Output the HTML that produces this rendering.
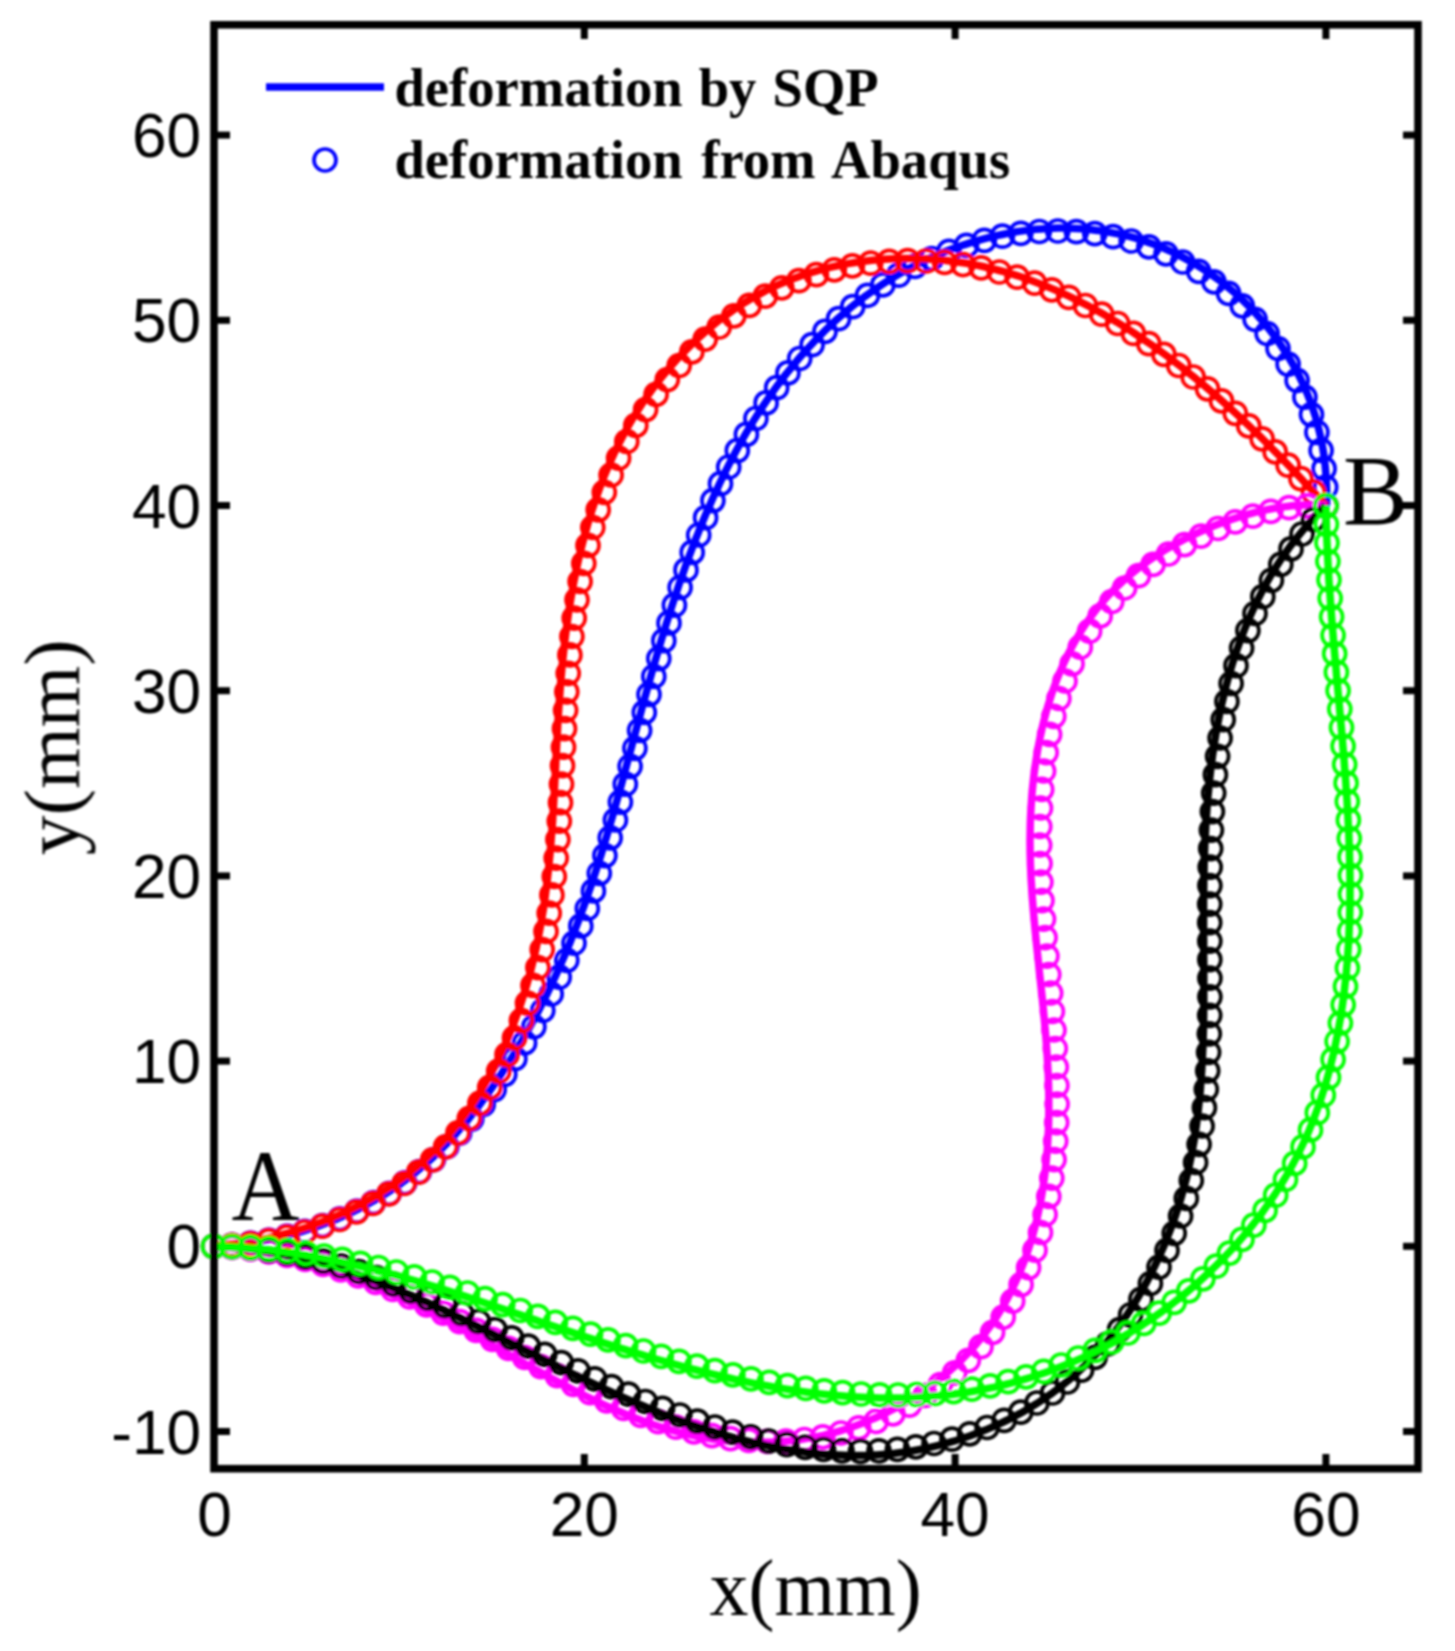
<!DOCTYPE html>
<html>
<head>
<meta charset="utf-8">
<title>Deformation by SQP vs Abaqus</title>
<style>
html,body{margin:0;padding:0;background:#ffffff;}
body{width:1455px;height:1651px;overflow:hidden;}
svg{display:block;}
.sans{font-family:"Liberation Sans",sans-serif;font-size:62.2px;fill:#000;}
.serif{font-family:"Liberation Serif",serif;fill:#000;}
</style>
</head>
<body>
<svg width="1455" height="1651" viewBox="0 0 1455 1651">
<defs><filter id="soft" x="0" y="0" width="1455" height="1651" filterUnits="userSpaceOnUse"><feGaussianBlur stdDeviation="0.9"/></filter></defs>
<rect x="0" y="0" width="1455" height="1651" fill="#ffffff"/>
<g filter="url(#soft)">
<g stroke="#000" stroke-width="7.0">
<line x1="584.3" y1="1454" x2="584.3" y2="1466"/>
<line x1="584.3" y1="27" x2="584.3" y2="39"/>
<line x1="955.1" y1="1454" x2="955.1" y2="1466"/>
<line x1="955.1" y1="27" x2="955.1" y2="39"/>
<line x1="1325.9" y1="1454" x2="1325.9" y2="1466"/>
<line x1="1325.9" y1="27" x2="1325.9" y2="39"/>
<line x1="216" y1="1431.5" x2="230" y2="1431.5"/>
<line x1="1403" y1="1431.5" x2="1416" y2="1431.5"/>
<line x1="216" y1="1246.3" x2="230" y2="1246.3"/>
<line x1="1403" y1="1246.3" x2="1416" y2="1246.3"/>
<line x1="216" y1="1061.1" x2="230" y2="1061.1"/>
<line x1="1403" y1="1061.1" x2="1416" y2="1061.1"/>
<line x1="216" y1="875.9" x2="230" y2="875.9"/>
<line x1="1403" y1="875.9" x2="1416" y2="875.9"/>
<line x1="216" y1="690.7" x2="230" y2="690.7"/>
<line x1="1403" y1="690.7" x2="1416" y2="690.7"/>
<line x1="216" y1="505.5" x2="230" y2="505.5"/>
<line x1="1403" y1="505.5" x2="1416" y2="505.5"/>
<line x1="216" y1="320.3" x2="230" y2="320.3"/>
<line x1="1403" y1="320.3" x2="1416" y2="320.3"/>
<line x1="216" y1="135.1" x2="230" y2="135.1"/>
<line x1="1403" y1="135.1" x2="1416" y2="135.1"/>
</g>
<!-- tick labels -->
<g class="sans">
<text x="201.2" y="1453.5" text-anchor="end">-10</text>
<text x="201.2" y="1268.3" text-anchor="end">0</text>
<text x="201.2" y="1083.1" text-anchor="end">10</text>
<text x="201.2" y="897.9" text-anchor="end">20</text>
<text x="201.2" y="712.7" text-anchor="end">30</text>
<text x="201.2" y="527.5" text-anchor="end">40</text>
<text x="201.2" y="342.3" text-anchor="end">50</text>
<text x="201.2" y="157.1" text-anchor="end">60</text>
<text x="214.5" y="1535.5" text-anchor="middle">0</text>
<text x="584.3" y="1535.5" text-anchor="middle">20</text>
<text x="955.1" y="1535.5" text-anchor="middle">40</text>
<text x="1325.9" y="1535.5" text-anchor="middle">60</text>
</g>
<!-- axis titles -->
<text class="serif" transform="translate(815.6,1615) scale(0.98,1)" font-size="79.5" text-anchor="middle">x(mm)</text>
<text class="serif" transform="translate(78.5,747.2) rotate(-90)" font-size="79.3" text-anchor="middle">y(mm)</text>
<!-- legend -->
<line x1="266" y1="87" x2="384" y2="87" stroke="#0000ff" stroke-width="7.5"/>
<circle cx="325" cy="160" r="11" fill="none" stroke="#0000ff" stroke-width="3.7"/>
<text class="serif" x="394.5" y="106" font-size="54.6" font-weight="bold" word-spacing="2.5">deformation by SQP</text>
<text class="serif" x="394.5" y="178" font-size="54.6" font-weight="bold" word-spacing="5">deformation from Abaqus</text>
<!-- curves -->
<!-- blue -->
<path d="M213.5 1246.2 L219 1245.9 L224.6 1245.6 L230.1 1245.2 L235.7 1244.6 L241.2 1244 L246.7 1243.3 L252.3 1242.5 L257.8 1241.7 L263.3 1240.7 L268.8 1239.6 L274.2 1238.5 L279.7 1237.3 L285.1 1236 L290.5 1234.6 L295.9 1233.1 L301.3 1231.6 L306.6 1229.9 L311.9 1228.2 L317.2 1226.4 L322.4 1224.5 L327.6 1222.6 L332.8 1220.5 L338 1218.4 L343.1 1216.2 L348.1 1213.9 L353.1 1211.5 L358.1 1209.1 L363 1206.6 L367.9 1204 L372.8 1201.3 L377.6 1198.5 L382.3 1195.7 L387 1192.8 L391.6 1189.8 L396.2 1186.7 L400.7 1183.6 L405.1 1180.3 L409.5 1177.1 L413.8 1173.7 L418.1 1170.2 L422.3 1166.7 L426.4 1163.1 L430.5 1159.5 L434.5 1155.7 L438.4 1151.9 L442.3 1148.1 L446.2 1144.2 L449.9 1140.2 L453.7 1136.2 L457.3 1132.1 L460.9 1127.9 L464.5 1123.7 L468 1119.5 L471.5 1115.2 L474.9 1110.9 L478.3 1106.5 L481.6 1102.1 L484.9 1097.6 L488.1 1093.1 L491.3 1088.6 L494.5 1084.1 L497.6 1079.5 L500.7 1074.9 L503.7 1070.3 L506.7 1065.6 L509.7 1060.9 L512.7 1056.2 L515.6 1051.5 L518.4 1046.7 L521.2 1042 L524 1037.2 L526.8 1032.4 L529.5 1027.5 L532.1 1022.7 L534.8 1017.8 L537.4 1012.9 L539.9 1008 L542.4 1003.1 L544.9 998.1 L547.4 993.2 L549.8 988.2 L552.2 983.2 L554.5 978.2 L556.8 973.2 L559.1 968.1 L561.3 963.1 L563.5 958 L565.7 952.9 L567.8 947.8 L569.9 942.7 L571.9 937.6 L574 932.5 L576 927.3 L578 922.2 L579.9 917 L581.8 911.8 L583.7 906.6 L585.6 901.4 L587.4 896.2 L589.2 890.9 L591 885.7 L592.8 880.4 L594.5 875.2 L596.2 869.9 L597.9 864.6 L599.6 859.3 L601.3 854 L602.9 848.7 L604.5 843.4 L606.1 838.1 L607.7 832.7 L609.3 827.4 L610.8 822.1 L612.4 816.7 L613.9 811.4 L615.4 806 L616.9 800.6 L618.4 795.3 L619.9 789.9 L621.4 784.5 L622.9 779.1 L624.3 773.7 L625.8 768.3 L627.2 762.9 L628.7 757.5 L630.1 752.1 L631.6 746.7 L633 741.3 L634.5 735.9 L635.9 730.5 L637.4 725.1 L638.8 719.7 L640.3 714.4 L641.7 709 L643.2 703.6 L644.7 698.2 L646.2 692.8 L647.7 687.4 L649.2 682 L650.7 676.6 L652.2 671.3 L653.8 665.9 L655.3 660.5 L656.9 655.2 L658.5 649.8 L660 644.5 L661.6 639.1 L663.3 633.8 L664.9 628.5 L666.5 623.1 L668.2 617.8 L669.9 612.5 L671.6 607.2 L673.3 601.9 L675 596.6 L676.8 591.4 L678.5 586.1 L680.3 580.8 L682.2 575.6 L684 570.4 L685.9 565.1 L687.8 559.9 L689.7 554.7 L691.7 549.5 L693.6 544.4 L695.6 539.2 L697.7 534.1 L699.7 528.9 L701.8 523.8 L703.9 518.7 L706.1 513.6 L708.3 508.5 L710.5 503.4 L712.7 498.4 L715 493.3 L717.4 488.3 L719.7 483.3 L722.1 478.3 L724.5 473.3 L727 468.4 L729.5 463.4 L732.1 458.5 L734.7 453.6 L737.3 448.7 L740 443.8 L742.7 439 L745.5 434.2 L748.3 429.4 L751.2 424.6 L754.1 419.9 L757.1 415.2 L760.1 410.5 L763.1 405.9 L766.2 401.3 L769.4 396.7 L772.6 392.2 L775.8 387.7 L779.1 383.2 L782.4 378.8 L785.8 374.4 L789.3 370.1 L792.8 365.8 L796.3 361.5 L799.9 357.3 L803.5 353.2 L807.2 349 L811 345 L814.7 340.9 L818.6 337 L822.5 333.1 L826.4 329.2 L830.4 325.4 L834.5 321.6 L838.6 317.9 L842.8 314.3 L847 310.7 L851.2 307.2 L855.5 303.7 L859.9 300.3 L864.3 296.9 L868.8 293.7 L873.3 290.4 L877.9 287.3 L882.6 284.2 L887.3 281.1 L892.1 278.2 L896.9 275.3 L901.7 272.5 L906.7 269.7 L911.7 267.1 L916.7 264.5 L921.8 262 L926.9 259.5 L932.1 257.2 L937.3 254.9 L942.5 252.7 L947.8 250.6 L953.2 248.6 L958.5 246.7 L963.9 244.8 L969.3 243.1 L974.8 241.4 L980.2 239.8 L985.7 238.4 L991.2 237 L996.7 235.7 L1002.3 234.5 L1007.8 233.3 L1013.4 232.3 L1019 231.4 L1024.6 230.6 L1030.2 229.9 L1035.8 229.3 L1041.4 228.9 L1047 228.5 L1052.6 228.2 L1058.2 228.1 L1063.8 228.1 L1069.4 228.2 L1075 228.5 L1080.6 228.8 L1086.2 229.2 L1091.7 229.8 L1097.3 230.4 L1102.8 231.2 L1108.3 232.1 L1113.8 233.1 L1119.3 234.1 L1124.8 235.4 L1130.2 236.7 L1135.6 238.2 L1141 239.8 L1146.3 241.6 L1151.6 243.5 L1156.9 245.5 L1162.1 247.6 L1167.3 249.8 L1172.5 252.2 L1177.6 254.6 L1182.6 257.2 L1187.6 259.9 L1192.6 262.7 L1197.4 265.5 L1202.3 268.6 L1207 271.7 L1211.8 274.9 L1216.4 278.2 L1221 281.6 L1225.5 285.2 L1229.9 288.8 L1234.2 292.5 L1238.5 296.3 L1242.7 300.2 L1246.8 304.2 L1250.9 308.3 L1254.8 312.5 L1258.6 316.7 L1262.4 321.1 L1266.1 325.5 L1269.7 329.9 L1273.2 334.5 L1276.6 339.1 L1279.9 343.8 L1283.1 348.6 L1286.2 353.4 L1289.2 358.2 L1292.2 363.2 L1295 368.1 L1297.7 373.2 L1300.3 378.3 L1302.7 383.4 L1305.1 388.6 L1307.3 393.9 L1309.4 399.2 L1311.4 404.5 L1313.2 409.9 L1315 415.3 L1316.6 420.8 L1318 426.2 L1319.4 431.7 L1320.6 437.2 L1321.8 442.8 L1322.8 448.3 L1323.7 453.9 L1324.4 459.5 L1325.1 465.1 L1325.6 470.7 L1326.1 476.3 L1326.4 481.9 L1326.6 487.5 L1326.7 493.1 L1326.7 498.8 L1326.6 504.4 L1326.5 505.8" fill="none" stroke="#0000ff" stroke-width="7.5" stroke-linejoin="round"/>
<g fill="none" stroke="#0000ff" stroke-width="3.7"><circle cx="213.5" cy="1246.3" r="11.0"/><circle cx="232" cy="1245.2" r="11.0"/><circle cx="250.5" cy="1243.1" r="11.0"/><circle cx="268.8" cy="1240.1" r="11.0"/><circle cx="287" cy="1236.2" r="11.0"/><circle cx="304.9" cy="1231.3" r="11.0"/><circle cx="322.5" cy="1225.6" r="11.0"/><circle cx="339.8" cy="1218.9" r="11.0"/><circle cx="356.8" cy="1211.2" r="11.0"/><circle cx="373.3" cy="1202.7" r="11.0"/><circle cx="389.3" cy="1193.3" r="11.0"/><circle cx="404.7" cy="1182.9" r="11.0"/><circle cx="419.4" cy="1171.7" r="11.0"/><circle cx="433.5" cy="1159.6" r="11.0"/><circle cx="446.9" cy="1146.7" r="11.0"/><circle cx="459.6" cy="1133.2" r="11.0"/><circle cx="471.7" cy="1119.1" r="11.0"/><circle cx="483.2" cy="1104.5" r="11.0"/><circle cx="494.2" cy="1089.6" r="11.0"/><circle cx="504.8" cy="1074.3" r="11.0"/><circle cx="514.9" cy="1058.7" r="11.0"/><circle cx="524.6" cy="1042.9" r="11.0"/><circle cx="533.9" cy="1026.8" r="11.0"/><circle cx="542.8" cy="1010.5" r="11.0"/><circle cx="551.2" cy="994" r="11.0"/><circle cx="559.2" cy="977.2" r="11.0"/><circle cx="566.8" cy="960.3" r="11.0"/><circle cx="574" cy="943.2" r="11.0"/><circle cx="580.8" cy="925.9" r="11.0"/><circle cx="587.3" cy="908.5" r="11.0"/><circle cx="593.4" cy="890.9" r="11.0"/><circle cx="599.3" cy="873.3" r="11.0"/><circle cx="604.9" cy="855.6" r="11.0"/><circle cx="610.2" cy="837.8" r="11.0"/><circle cx="615.4" cy="820" r="11.0"/><circle cx="620.4" cy="802.1" r="11.0"/><circle cx="625.3" cy="784.2" r="11.0"/><circle cx="630.1" cy="766.3" r="11.0"/><circle cx="634.9" cy="748.3" r="11.0"/><circle cx="639.6" cy="730.4" r="11.0"/><circle cx="644.3" cy="712.4" r="11.0"/><circle cx="649" cy="694.4" r="11.0"/><circle cx="653.8" cy="676.5" r="11.0"/><circle cx="658.8" cy="658.6" r="11.0"/><circle cx="663.8" cy="640.7" r="11.0"/><circle cx="669" cy="622.9" r="11.0"/><circle cx="674.4" cy="605.2" r="11.0"/><circle cx="680.1" cy="587.5" r="11.0"/><circle cx="686" cy="569.9" r="11.0"/><circle cx="692.2" cy="552.4" r="11.0"/><circle cx="698.7" cy="535" r="11.0"/><circle cx="705.6" cy="517.7" r="11.0"/><circle cx="712.9" cy="500.6" r="11.0"/><circle cx="720.5" cy="483.7" r="11.0"/><circle cx="728.7" cy="467" r="11.0"/><circle cx="737.3" cy="450.6" r="11.0"/><circle cx="746.4" cy="434.4" r="11.0"/><circle cx="755.9" cy="418.5" r="11.0"/><circle cx="766.1" cy="402.9" r="11.0"/><circle cx="776.7" cy="387.7" r="11.0"/><circle cx="787.9" cy="372.9" r="11.0"/><circle cx="799.7" cy="358.5" r="11.0"/><circle cx="812.1" cy="344.7" r="11.0"/><circle cx="825" cy="331.4" r="11.0"/><circle cx="838.6" cy="318.7" r="11.0"/><circle cx="852.7" cy="306.7" r="11.0"/><circle cx="867.5" cy="295.4" r="11.0"/><circle cx="882.8" cy="284.9" r="11.0"/><circle cx="898.6" cy="275.2" r="11.0"/><circle cx="914.9" cy="266.4" r="11.0"/><circle cx="931.7" cy="258.5" r="11.0"/><circle cx="948.9" cy="251.4" r="11.0"/><circle cx="966.5" cy="245.4" r="11.0"/><circle cx="984.3" cy="240.3" r="11.0"/><circle cx="1002.4" cy="236.2" r="11.0"/><circle cx="1020.8" cy="233.3" r="11.0"/><circle cx="1039.3" cy="231.5" r="11.0"/><circle cx="1057.8" cy="231" r="11.0"/><circle cx="1076.4" cy="231.7" r="11.0"/><circle cx="1094.8" cy="233.6" r="11.0"/><circle cx="1113.1" cy="236.7" r="11.0"/><circle cx="1131.2" cy="241" r="11.0"/><circle cx="1148.9" cy="246.8" r="11.0"/><circle cx="1166" cy="253.8" r="11.0"/><circle cx="1182.7" cy="262" r="11.0"/><circle cx="1198.7" cy="271.4" r="11.0"/><circle cx="1214" cy="281.9" r="11.0"/><circle cx="1228.6" cy="293.4" r="11.0"/><circle cx="1242.3" cy="305.9" r="11.0"/><circle cx="1255.1" cy="319.3" r="11.0"/><circle cx="1267.1" cy="333.5" r="11.0"/><circle cx="1278" cy="348.5" r="11.0"/><circle cx="1288.1" cy="364.1" r="11.0"/><circle cx="1297.1" cy="380.4" r="11.0"/><circle cx="1304.9" cy="397.2" r="11.0"/><circle cx="1311.5" cy="414.6" r="11.0"/><circle cx="1316.9" cy="432.3" r="11.0"/><circle cx="1321.1" cy="450.4" r="11.0"/><circle cx="1324.1" cy="468.7" r="11.0"/><circle cx="1325.7" cy="487.2" r="11.0"/><circle cx="1326.1" cy="505.8" r="11.0"/></g>
<!-- red -->
<path d="M213.5 1245.8 L219 1245.5 L224.6 1245.1 L230.2 1244.6 L235.7 1244 L241.2 1243.2 L246.8 1242.4 L252.3 1241.5 L257.8 1240.4 L263.2 1239.3 L268.7 1238.1 L274.2 1236.8 L279.6 1235.4 L285 1234 L290.4 1232.5 L295.7 1230.9 L301 1229.2 L306.4 1227.5 L311.6 1225.7 L316.9 1223.8 L322.1 1221.9 L327.3 1219.8 L332.4 1217.7 L337.5 1215.6 L342.6 1213.3 L347.6 1211 L352.6 1208.6 L357.5 1206.1 L362.4 1203.6 L367.2 1201 L372 1198.2 L376.7 1195.5 L381.4 1192.6 L386 1189.7 L390.5 1186.6 L395 1183.6 L399.4 1180.4 L403.8 1177.2 L408 1173.9 L412.2 1170.5 L416.4 1167.1 L420.4 1163.5 L424.4 1160 L428.3 1156.3 L432.2 1152.6 L436 1148.8 L439.7 1145 L443.3 1141 L446.9 1137.1 L450.4 1133 L453.8 1128.9 L457.2 1124.8 L460.5 1120.6 L463.7 1116.3 L466.8 1111.9 L469.9 1107.6 L473 1103.1 L475.9 1098.6 L478.8 1094.1 L481.7 1089.5 L484.4 1084.9 L487.1 1080.2 L489.8 1075.5 L492.3 1070.7 L494.9 1065.9 L497.3 1061 L499.7 1056.1 L502 1051.2 L504.3 1046.2 L506.5 1041.2 L508.6 1036.2 L510.7 1031.1 L512.8 1026 L514.7 1020.9 L516.6 1015.8 L518.5 1010.6 L520.3 1005.4 L522 1000.1 L523.7 994.9 L525.3 989.6 L526.9 984.3 L528.4 979 L529.9 973.7 L531.3 968.4 L532.6 963 L533.9 957.7 L535.2 952.3 L536.4 946.9 L537.5 941.5 L538.6 936.1 L539.6 930.7 L540.6 925.3 L541.6 919.9 L542.5 914.5 L543.4 909.1 L544.2 903.6 L545 898.2 L545.7 892.7 L546.4 887.3 L547.1 881.8 L547.7 876.3 L548.3 870.8 L548.9 865.4 L549.4 859.9 L550 854.4 L550.4 848.9 L550.9 843.4 L551.3 837.8 L551.8 832.3 L552.2 826.8 L552.6 821.3 L552.9 815.7 L553.3 810.2 L553.6 804.7 L553.9 799.1 L554.2 793.6 L554.5 788 L554.8 782.4 L555.1 776.9 L555.4 771.3 L555.7 765.7 L555.9 760.2 L556.2 754.6 L556.5 749 L556.8 743.4 L557.1 737.9 L557.4 732.3 L557.7 726.7 L558 721.1 L558.3 715.5 L558.7 709.9 L559.1 704.3 L559.5 698.8 L559.9 693.2 L560.3 687.6 L560.7 682 L561.2 676.4 L561.7 670.8 L562.2 665.2 L562.8 659.6 L563.4 654 L564 648.5 L564.6 642.9 L565.3 637.3 L566 631.7 L566.7 626.1 L567.5 620.6 L568.3 615 L569.1 609.4 L570 603.9 L570.9 598.3 L571.9 592.8 L572.9 587.3 L573.9 581.7 L575 576.2 L576.1 570.7 L577.3 565.3 L578.5 559.8 L579.8 554.3 L581.1 548.9 L582.5 543.4 L583.9 538 L585.4 532.6 L586.9 527.2 L588.4 521.8 L590.1 516.5 L591.7 511.1 L593.5 505.8 L595.2 500.5 L597.1 495.2 L599 489.9 L600.9 484.7 L603 479.4 L605 474.2 L607.2 469 L609.4 463.9 L611.7 458.7 L614 453.6 L616.5 448.5 L619 443.4 L621.6 438.4 L624.2 433.4 L627 428.4 L629.8 423.5 L632.7 418.6 L635.7 413.8 L638.7 409 L641.8 404.2 L645 399.5 L648.3 394.8 L651.6 390.2 L655 385.7 L658.5 381.2 L662.1 376.7 L665.7 372.3 L669.3 368 L673.1 363.7 L676.9 359.5 L680.7 355.4 L684.7 351.3 L688.7 347.3 L692.7 343.3 L696.8 339.4 L701 335.6 L705.2 331.9 L709.5 328.2 L713.8 324.6 L718.2 321.1 L722.7 317.7 L727.2 314.4 L731.8 311.1 L736.4 308 L741.1 304.9 L745.8 301.9 L750.6 299.1 L755.5 296.3 L760.4 293.6 L765.3 291 L770.3 288.5 L775.3 286.2 L780.4 283.9 L785.5 281.7 L790.7 279.6 L795.9 277.7 L801.2 275.8 L806.5 274 L811.8 272.4 L817.1 270.8 L822.5 269.3 L827.9 267.9 L833.3 266.7 L838.8 265.5 L844.2 264.4 L849.7 263.4 L855.2 262.5 L860.8 261.7 L866.3 260.9 L871.9 260.3 L877.4 259.8 L883 259.3 L888.6 259 L894.2 258.7 L899.8 258.5 L905.4 258.4 L911 258.4 L916.6 258.5 L922.2 258.7 L927.8 259 L933.4 259.3 L938.9 259.8 L944.5 260.3 L950.1 260.9 L955.6 261.7 L961.2 262.5 L966.7 263.3 L972.2 264.3 L977.6 265.4 L983.1 266.5 L988.5 267.8 L994 269.1 L999.3 270.5 L1004.7 271.9 L1010 273.5 L1015.4 275.1 L1020.7 276.8 L1025.9 278.6 L1031.2 280.5 L1036.4 282.4 L1041.6 284.4 L1046.8 286.5 L1051.9 288.6 L1057 290.8 L1062.1 293.1 L1067.2 295.4 L1072.3 297.8 L1077.3 300.3 L1082.3 302.8 L1087.3 305.4 L1092.2 308 L1097.1 310.7 L1102 313.4 L1106.9 316.2 L1111.7 319.1 L1116.5 321.9 L1121.3 324.9 L1126.1 327.9 L1130.8 330.9 L1135.5 334 L1140.2 337.1 L1144.8 340.3 L1149.5 343.5 L1154.1 346.7 L1158.6 350 L1163.2 353.3 L1167.7 356.6 L1172.2 360 L1176.6 363.4 L1181.1 366.8 L1185.5 370.3 L1189.8 373.8 L1194.2 377.3 L1198.5 380.8 L1202.8 384.4 L1207.1 388 L1211.3 391.6 L1215.5 395.2 L1219.7 398.9 L1223.9 402.6 L1228 406.3 L1232.1 410.1 L1236.2 413.8 L1240.3 417.6 L1244.4 421.4 L1248.4 425.2 L1252.4 429.1 L1256.4 432.9 L1260.4 436.8 L1264.3 440.7 L1268.2 444.6 L1272.1 448.6 L1276 452.5 L1279.9 456.4 L1283.7 460.4 L1287.6 464.4 L1291.4 468.4 L1295.2 472.4 L1299 476.4 L1302.8 480.4 L1306.5 484.5 L1310.3 488.5 L1314 492.6 L1317.7 496.6 L1321.4 500.7 L1325.1 504.8 L1326 505.8" fill="none" stroke="#ff0000" stroke-width="7.5" stroke-linejoin="round"/>
<g fill="none" stroke="#ff0000" stroke-width="3.7"><circle cx="213.5" cy="1246.3" r="11.0"/><circle cx="232" cy="1245.4" r="11.0"/><circle cx="250.4" cy="1243.5" r="11.0"/><circle cx="268.7" cy="1240.6" r="11.0"/><circle cx="286.8" cy="1236.8" r="11.0"/><circle cx="304.7" cy="1232" r="11.0"/><circle cx="322.3" cy="1226.2" r="11.0"/><circle cx="339.6" cy="1219.5" r="11.0"/><circle cx="356.4" cy="1211.9" r="11.0"/><circle cx="372.9" cy="1203.4" r="11.0"/><circle cx="388.8" cy="1193.9" r="11.0"/><circle cx="404.1" cy="1183.5" r="11.0"/><circle cx="418.7" cy="1172.1" r="11.0"/><circle cx="432.6" cy="1159.9" r="11.0"/><circle cx="445.6" cy="1146.8" r="11.0"/><circle cx="457.9" cy="1132.9" r="11.0"/><circle cx="469.3" cy="1118.3" r="11.0"/><circle cx="479.9" cy="1103.1" r="11.0"/><circle cx="489.7" cy="1087.4" r="11.0"/><circle cx="498.7" cy="1071.2" r="11.0"/><circle cx="507" cy="1054.7" r="11.0"/><circle cx="514.5" cy="1037.8" r="11.0"/><circle cx="521.4" cy="1020.6" r="11.0"/><circle cx="527.5" cy="1003.1" r="11.0"/><circle cx="533" cy="985.4" r="11.0"/><circle cx="537.9" cy="967.6" r="11.0"/><circle cx="542.2" cy="949.6" r="11.0"/><circle cx="546" cy="931.4" r="11.0"/><circle cx="549.2" cy="913.2" r="11.0"/><circle cx="551.9" cy="894.9" r="11.0"/><circle cx="554.3" cy="876.5" r="11.0"/><circle cx="556.2" cy="858.1" r="11.0"/><circle cx="557.9" cy="839.6" r="11.0"/><circle cx="559.3" cy="821.2" r="11.0"/><circle cx="560.5" cy="802.7" r="11.0"/><circle cx="561.5" cy="784.2" r="11.0"/><circle cx="562.5" cy="765.7" r="11.0"/><circle cx="563.5" cy="747.2" r="11.0"/><circle cx="564.5" cy="728.7" r="11.0"/><circle cx="565.6" cy="710.3" r="11.0"/><circle cx="566.8" cy="691.8" r="11.0"/><circle cx="568.2" cy="673.3" r="11.0"/><circle cx="569.9" cy="654.9" r="11.0"/><circle cx="571.9" cy="636.5" r="11.0"/><circle cx="574.2" cy="618.1" r="11.0"/><circle cx="577" cy="599.8" r="11.0"/><circle cx="580.1" cy="581.5" r="11.0"/><circle cx="583.8" cy="563.4" r="11.0"/><circle cx="588" cy="545.4" r="11.0"/><circle cx="592.8" cy="527.5" r="11.0"/><circle cx="598.2" cy="509.8" r="11.0"/><circle cx="604.3" cy="492.3" r="11.0"/><circle cx="611.1" cy="475" r="11.0"/><circle cx="618.6" cy="458.1" r="11.0"/><circle cx="626.8" cy="441.5" r="11.0"/><circle cx="635.8" cy="425.4" r="11.0"/><circle cx="645.6" cy="409.6" r="11.0"/><circle cx="656.1" cy="394.4" r="11.0"/><circle cx="667.3" cy="379.6" r="11.0"/><circle cx="679.2" cy="365.5" r="11.0"/><circle cx="691.8" cy="351.9" r="11.0"/><circle cx="705.2" cy="339.1" r="11.0"/><circle cx="719.2" cy="327" r="11.0"/><circle cx="733.9" cy="315.8" r="11.0"/><circle cx="749.3" cy="305.4" r="11.0"/><circle cx="765.3" cy="296.1" r="11.0"/><circle cx="781.8" cy="287.8" r="11.0"/><circle cx="798.9" cy="280.7" r="11.0"/><circle cx="816.4" cy="274.7" r="11.0"/><circle cx="834.3" cy="269.8" r="11.0"/><circle cx="852.4" cy="265.9" r="11.0"/><circle cx="870.7" cy="263.2" r="11.0"/><circle cx="889.1" cy="261.4" r="11.0"/><circle cx="907.6" cy="260.7" r="11.0"/><circle cx="926.2" cy="261" r="11.0"/><circle cx="944.6" cy="262.3" r="11.0"/><circle cx="963" cy="264.6" r="11.0"/><circle cx="981.2" cy="267.8" r="11.0"/><circle cx="999.3" cy="272" r="11.0"/><circle cx="1017.1" cy="277.1" r="11.0"/><circle cx="1034.6" cy="283.1" r="11.0"/><circle cx="1051.8" cy="289.8" r="11.0"/><circle cx="1068.8" cy="297.3" r="11.0"/><circle cx="1085.4" cy="305.5" r="11.0"/><circle cx="1101.7" cy="314.2" r="11.0"/><circle cx="1117.7" cy="323.5" r="11.0"/><circle cx="1133.4" cy="333.4" r="11.0"/><circle cx="1148.8" cy="343.7" r="11.0"/><circle cx="1163.9" cy="354.4" r="11.0"/><circle cx="1178.7" cy="365.5" r="11.0"/><circle cx="1193.2" cy="377" r="11.0"/><circle cx="1207.5" cy="388.8" r="11.0"/><circle cx="1221.5" cy="400.9" r="11.0"/><circle cx="1235.3" cy="413.3" r="11.0"/><circle cx="1248.8" cy="425.9" r="11.0"/><circle cx="1262.1" cy="438.8" r="11.0"/><circle cx="1275.2" cy="451.9" r="11.0"/><circle cx="1288.1" cy="465.2" r="11.0"/><circle cx="1300.9" cy="478.6" r="11.0"/><circle cx="1313.5" cy="492.1" r="11.0"/><circle cx="1326" cy="505.8" r="11.0"/></g>
<!-- magenta -->
<path d="M213.5 1246.7 L219.1 1247 L224.7 1247.4 L230.3 1247.9 L235.9 1248.5 L241.5 1249.2 L247 1249.9 L252.5 1250.8 L258 1251.7 L263.4 1252.7 L268.8 1253.7 L274.2 1254.9 L279.6 1256 L285 1257.3 L290.3 1258.6 L295.7 1260 L301 1261.4 L306.2 1262.9 L311.5 1264.5 L316.7 1266.1 L322 1267.7 L327.2 1269.4 L332.4 1271.1 L337.6 1272.9 L342.7 1274.7 L347.9 1276.6 L353 1278.5 L358.2 1280.5 L363.3 1282.4 L368.4 1284.5 L373.5 1286.5 L378.6 1288.6 L383.6 1290.8 L388.7 1292.9 L393.8 1295.1 L398.8 1297.4 L403.8 1299.6 L408.9 1301.9 L413.9 1304.3 L418.9 1306.7 L423.9 1309.1 L428.8 1311.5 L433.8 1314 L438.8 1316.5 L443.7 1319.1 L448.7 1321.7 L453.6 1324.3 L458.5 1326.9 L463.4 1329.5 L468.3 1332.2 L473.2 1334.9 L478.1 1337.6 L483 1340.3 L487.9 1343 L492.8 1345.8 L497.7 1348.5 L502.6 1351.3 L507.5 1354 L512.4 1356.8 L517.3 1359.5 L522.3 1362.3 L527.2 1365 L532.1 1367.7 L537 1370.4 L542 1373.1 L546.9 1375.8 L551.9 1378.5 L556.8 1381.1 L561.8 1383.8 L566.8 1386.4 L571.7 1389 L576.8 1391.5 L581.8 1394 L586.8 1396.5 L591.8 1399 L596.9 1401.4 L602 1403.8 L607 1406.1 L612.2 1408.4 L617.3 1410.6 L622.4 1412.8 L627.6 1414.9 L632.8 1417 L638 1419 L643.2 1421 L648.5 1422.9 L653.7 1424.7 L659.1 1426.5 L664.4 1428.1 L669.8 1429.7 L675.1 1431.2 L680.6 1432.6 L686 1434 L691.4 1435.2 L696.9 1436.3 L702.4 1437.4 L707.9 1438.3 L713.4 1439.2 L719 1439.9 L724.5 1440.6 L730 1441.1 L735.6 1441.6 L741.1 1441.9 L746.7 1442.2 L752.2 1442.3 L757.8 1442.4 L763.3 1442.3 L768.8 1442.2 L774.4 1442 L779.9 1441.6 L785.4 1441.2 L790.9 1440.7 L796.3 1440 L801.8 1439.3 L807.2 1438.4 L812.6 1437.5 L818 1436.4 L823.4 1435.3 L828.7 1434 L834.1 1432.6 L839.4 1431.1 L844.6 1429.5 L849.9 1427.8 L855.1 1426 L860.3 1424.1 L865.5 1422.1 L870.6 1419.9 L875.7 1417.7 L880.8 1415.4 L885.8 1413 L890.8 1410.5 L895.8 1407.9 L900.7 1405.2 L905.5 1402.4 L910.3 1399.5 L915.1 1396.6 L919.8 1393.5 L924.4 1390.4 L929 1387.2 L933.5 1383.9 L938 1380.5 L942.3 1377 L946.6 1373.4 L950.8 1369.8 L954.9 1366.1 L959 1362.3 L962.9 1358.5 L966.8 1354.5 L970.5 1350.5 L974.2 1346.5 L977.7 1342.4 L981.1 1338.2 L984.5 1333.9 L987.7 1329.6 L990.9 1325.2 L993.9 1320.8 L996.9 1316.3 L999.7 1311.8 L1002.5 1307.2 L1005.2 1302.6 L1007.7 1297.9 L1010.2 1293.1 L1012.6 1288.3 L1014.9 1283.5 L1017.1 1278.6 L1019.3 1273.7 L1021.3 1268.7 L1023.3 1263.7 L1025.2 1258.7 L1027 1253.6 L1028.7 1248.4 L1030.3 1243.3 L1031.9 1238.1 L1033.4 1232.9 L1034.8 1227.6 L1036.1 1222.3 L1037.4 1217 L1038.5 1211.7 L1039.6 1206.3 L1040.7 1201 L1041.7 1195.6 L1042.6 1190.1 L1043.4 1184.7 L1044.2 1179.2 L1044.9 1173.8 L1045.5 1168.3 L1046.1 1162.8 L1046.6 1157.3 L1047.1 1151.8 L1047.5 1146.3 L1047.8 1140.7 L1048.1 1135.2 L1048.4 1129.7 L1048.6 1124.2 L1048.7 1118.6 L1048.8 1113.1 L1048.8 1107.6 L1048.8 1102.1 L1048.8 1096.5 L1048.7 1091 L1048.6 1085.5 L1048.4 1080 L1048.2 1074.5 L1047.9 1069 L1047.6 1063.5 L1047.3 1058 L1047 1052.5 L1046.6 1047 L1046.2 1041.5 L1045.8 1036 L1045.3 1030.5 L1044.8 1025 L1044.3 1019.5 L1043.8 1014 L1043.3 1008.5 L1042.7 1003 L1042.2 997.5 L1041.6 992 L1041 986.5 L1040.4 981 L1039.8 975.5 L1039.2 969.9 L1038.7 964.4 L1038.1 958.9 L1037.5 953.3 L1036.9 947.8 L1036.3 942.2 L1035.8 936.7 L1035.2 931.1 L1034.7 925.5 L1034.2 920 L1033.7 914.4 L1033.2 908.8 L1032.8 903.2 L1032.3 897.6 L1031.9 892 L1031.6 886.3 L1031.2 880.7 L1030.9 875.1 L1030.7 869.4 L1030.4 863.7 L1030.3 858.1 L1030.1 852.4 L1030.1 846.7 L1030 841 L1030.1 835.2 L1030.2 829.5 L1030.3 823.8 L1030.5 818.1 L1030.8 812.3 L1031.1 806.6 L1031.5 800.9 L1031.9 795.1 L1032.4 789.4 L1033 783.7 L1033.6 778 L1034.3 772.3 L1035.1 766.6 L1035.9 760.9 L1036.8 755.3 L1037.7 749.6 L1038.8 744 L1039.9 738.4 L1041.1 732.9 L1042.3 727.3 L1043.6 721.8 L1045.1 716.3 L1046.5 710.9 L1048.1 705.4 L1049.8 700 L1051.5 694.7 L1053.3 689.3 L1055.2 684.1 L1057.2 678.8 L1059.3 673.6 L1061.5 668.5 L1063.7 663.4 L1066.1 658.3 L1068.5 653.3 L1071.1 648.4 L1073.8 643.5 L1076.5 638.6 L1079.4 633.8 L1082.3 629.1 L1085.4 624.5 L1088.6 619.9 L1091.8 615.4 L1095.2 610.9 L1098.7 606.6 L1102.3 602.3 L1106 598 L1109.8 593.9 L1113.8 589.8 L1117.8 585.9 L1122 582 L1126.3 578.2 L1130.7 574.5 L1135.1 570.8 L1139.7 567.3 L1144.3 563.8 L1149.1 560.5 L1153.9 557.2 L1158.8 554 L1163.7 550.9 L1168.7 547.9 L1173.8 545 L1179 542.2 L1184.1 539.5 L1189.4 536.8 L1194.6 534.3 L1200 531.8 L1205.3 529.5 L1210.7 527.2 L1216.1 525.1 L1221.5 523 L1226.9 521 L1232.4 519.1 L1237.8 517.4 L1243.2 515.7 L1248.7 514.2 L1254.1 512.7 L1259.6 511.4 L1265 510.1 L1270.4 509 L1275.8 508 L1281.2 507.2 L1286.6 506.4 L1292.1 505.8 L1297.5 505.4 L1302.9 505 L1308.3 504.9 L1313.7 504.8 L1319.2 505 L1324.7 505.2 L1326 505.3" fill="none" stroke="#ff00ff" stroke-width="7.5" stroke-linejoin="round"/>
<g fill="none" stroke="#ff00ff" stroke-width="3.7"><circle cx="213.5" cy="1246.3" r="11.0"/><circle cx="232" cy="1247.4" r="11.0"/><circle cx="250.5" cy="1249.2" r="11.0"/><circle cx="268.8" cy="1251.9" r="11.0"/><circle cx="287.1" cy="1255.4" r="11.0"/><circle cx="305.1" cy="1259.5" r="11.0"/><circle cx="323.1" cy="1264.4" r="11.0"/><circle cx="340.8" cy="1269.8" r="11.0"/><circle cx="358.3" cy="1275.9" r="11.0"/><circle cx="375.7" cy="1282.4" r="11.0"/><circle cx="392.8" cy="1289.5" r="11.0"/><circle cx="409.8" cy="1297" r="11.0"/><circle cx="426.6" cy="1304.9" r="11.0"/><circle cx="443.2" cy="1313.1" r="11.0"/><circle cx="459.7" cy="1321.6" r="11.0"/><circle cx="476.1" cy="1330.4" r="11.0"/><circle cx="492.3" cy="1339.3" r="11.0"/><circle cx="508.5" cy="1348.4" r="11.0"/><circle cx="524.6" cy="1357.5" r="11.0"/><circle cx="540.8" cy="1366.6" r="11.0"/><circle cx="557.1" cy="1375.6" r="11.0"/><circle cx="573.4" cy="1384.3" r="11.0"/><circle cx="590" cy="1392.7" r="11.0"/><circle cx="606.7" cy="1400.8" r="11.0"/><circle cx="623.6" cy="1408.4" r="11.0"/><circle cx="640.8" cy="1415.4" r="11.0"/><circle cx="658.2" cy="1421.7" r="11.0"/><circle cx="675.9" cy="1427.2" r="11.0"/><circle cx="693.9" cy="1431.9" r="11.0"/><circle cx="712" cy="1435.7" r="11.0"/><circle cx="730.4" cy="1438.6" r="11.0"/><circle cx="748.8" cy="1440.4" r="11.0"/><circle cx="767.4" cy="1441.3" r="11.0"/><circle cx="785.9" cy="1441" r="11.0"/><circle cx="804.4" cy="1439.5" r="11.0"/><circle cx="822.8" cy="1436.9" r="11.0"/><circle cx="840.9" cy="1433" r="11.0"/><circle cx="858.7" cy="1427.8" r="11.0"/><circle cx="876.1" cy="1421.4" r="11.0"/><circle cx="893" cy="1413.8" r="11.0"/><circle cx="909.4" cy="1405.1" r="11.0"/><circle cx="925.2" cy="1395.4" r="11.0"/><circle cx="940.3" cy="1384.6" r="11.0"/><circle cx="954.7" cy="1372.9" r="11.0"/><circle cx="968.3" cy="1360.3" r="11.0"/><circle cx="981" cy="1346.7" r="11.0"/><circle cx="992.6" cy="1332.3" r="11.0"/><circle cx="1003.2" cy="1317.1" r="11.0"/><circle cx="1012.7" cy="1301.1" r="11.0"/><circle cx="1021.1" cy="1284.6" r="11.0"/><circle cx="1028.6" cy="1267.6" r="11.0"/><circle cx="1035" cy="1250.2" r="11.0"/><circle cx="1040.5" cy="1232.5" r="11.0"/><circle cx="1045.1" cy="1214.5" r="11.0"/><circle cx="1048.8" cy="1196.4" r="11.0"/><circle cx="1051.8" cy="1178.1" r="11.0"/><circle cx="1054.1" cy="1159.6" r="11.0"/><circle cx="1055.7" cy="1141.2" r="11.0"/><circle cx="1056.7" cy="1122.6" r="11.0"/><circle cx="1057.1" cy="1104.1" r="11.0"/><circle cx="1056.9" cy="1085.5" r="11.0"/><circle cx="1056.3" cy="1067" r="11.0"/><circle cx="1055.3" cy="1048.5" r="11.0"/><circle cx="1054" cy="1030" r="11.0"/><circle cx="1052.4" cy="1011.5" r="11.0"/><circle cx="1050.7" cy="993" r="11.0"/><circle cx="1048.8" cy="974.5" r="11.0"/><circle cx="1046.9" cy="956.1" r="11.0"/><circle cx="1045.1" cy="937.6" r="11.0"/><circle cx="1043.5" cy="919.1" r="11.0"/><circle cx="1042" cy="900.6" r="11.0"/><circle cx="1040.9" cy="882.1" r="11.0"/><circle cx="1040.1" cy="863.6" r="11.0"/><circle cx="1039.7" cy="845" r="11.0"/><circle cx="1039.8" cy="826.5" r="11.0"/><circle cx="1040.5" cy="808" r="11.0"/><circle cx="1041.7" cy="789.4" r="11.0"/><circle cx="1043.6" cy="771" r="11.0"/><circle cx="1046.2" cy="752.6" r="11.0"/><circle cx="1049.6" cy="734.4" r="11.0"/><circle cx="1053.8" cy="716.3" r="11.0"/><circle cx="1058.9" cy="698.5" r="11.0"/><circle cx="1065" cy="681" r="11.0"/><circle cx="1072.1" cy="663.8" r="11.0"/><circle cx="1080.3" cy="647.2" r="11.0"/><circle cx="1089.6" cy="631.2" r="11.0"/><circle cx="1100.2" cy="615.9" r="11.0"/><circle cx="1111.8" cy="601.5" r="11.0"/><circle cx="1124.6" cy="588" r="11.0"/><circle cx="1138.5" cy="575.7" r="11.0"/><circle cx="1153.1" cy="564.4" r="11.0"/><circle cx="1168.5" cy="554" r="11.0"/><circle cx="1184.5" cy="544.6" r="11.0"/><circle cx="1201" cy="536.1" r="11.0"/><circle cx="1218" cy="528.5" r="11.0"/><circle cx="1235.3" cy="521.8" r="11.0"/><circle cx="1252.9" cy="516.1" r="11.0"/><circle cx="1270.8" cy="511.3" r="11.0"/><circle cx="1289" cy="507.7" r="11.0"/><circle cx="1307.5" cy="505.8" r="11.0"/><circle cx="1326" cy="505.8" r="11.0"/></g>
<!-- black -->
<path d="M213.5 1246.6 L219.3 1246.8 L225.1 1247 L230.8 1247.3 L236.5 1247.7 L242.2 1248.2 L247.8 1248.8 L253.4 1249.5 L259 1250.2 L264.5 1251 L270 1251.9 L275.5 1252.8 L281 1253.8 L286.4 1254.9 L291.8 1256 L297.2 1257.2 L302.5 1258.5 L307.9 1259.8 L313.2 1261.2 L318.5 1262.6 L323.7 1264 L329 1265.6 L334.2 1267.1 L339.4 1268.7 L344.6 1270.4 L349.8 1272.1 L354.9 1273.8 L360.1 1275.6 L365.2 1277.4 L370.3 1279.2 L375.4 1281.1 L380.5 1283 L385.6 1285 L390.7 1287 L395.7 1289 L400.8 1291.1 L405.8 1293.2 L410.8 1295.3 L415.9 1297.5 L420.9 1299.7 L425.9 1301.9 L430.8 1304.1 L435.8 1306.4 L440.8 1308.7 L445.8 1311 L450.7 1313.4 L455.7 1315.7 L460.7 1318.1 L465.6 1320.5 L470.6 1322.9 L475.5 1325.4 L480.5 1327.8 L485.4 1330.3 L490.4 1332.7 L495.3 1335.2 L500.3 1337.7 L505.2 1340.2 L510.2 1342.7 L515.1 1345.2 L520.1 1347.7 L525.1 1350.2 L530.1 1352.7 L535 1355.1 L540 1357.6 L545 1360.1 L550 1362.6 L555 1365.1 L560 1367.6 L565.1 1370 L570.1 1372.5 L575.1 1375 L580.2 1377.4 L585.2 1379.8 L590.3 1382.2 L595.4 1384.6 L600.5 1387 L605.6 1389.4 L610.7 1391.7 L615.8 1394.1 L621 1396.4 L626.1 1398.6 L631.3 1400.9 L636.5 1403.1 L641.7 1405.3 L646.9 1407.5 L652.1 1409.7 L657.4 1411.8 L662.7 1413.9 L668 1415.9 L673.3 1417.9 L678.6 1419.9 L683.9 1421.8 L689.3 1423.7 L694.7 1425.6 L700.1 1427.4 L705.5 1429.2 L710.9 1430.9 L716.3 1432.6 L721.8 1434.2 L727.2 1435.8 L732.7 1437.3 L738.2 1438.8 L743.7 1440.2 L749.2 1441.6 L754.7 1442.9 L760.2 1444.2 L765.7 1445.4 L771.2 1446.5 L776.8 1447.6 L782.3 1448.6 L787.9 1449.6 L793.5 1450.5 L799 1451.3 L804.6 1452.1 L810.2 1452.8 L815.7 1453.4 L821.3 1453.9 L826.9 1454.4 L832.5 1454.8 L838.1 1455.1 L843.6 1455.3 L849.2 1455.5 L854.8 1455.6 L860.4 1455.5 L866 1455.4 L871.5 1455.2 L877.1 1454.9 L882.6 1454.5 L888.2 1454 L893.7 1453.5 L899.3 1452.8 L904.8 1452 L910.3 1451.2 L915.8 1450.2 L921.3 1449.2 L926.7 1448.1 L932.2 1446.9 L937.6 1445.6 L943 1444.2 L948.4 1442.7 L953.7 1441.2 L959 1439.5 L964.3 1437.8 L969.6 1436 L974.8 1434.1 L980 1432.1 L985.2 1430.1 L990.3 1427.9 L995.3 1425.7 L1000.4 1423.4 L1005.4 1421 L1010.3 1418.6 L1015.2 1416 L1020.1 1413.4 L1024.9 1410.7 L1029.6 1407.9 L1034.3 1405 L1039 1402.1 L1043.6 1399 L1048.1 1395.9 L1052.6 1392.8 L1057 1389.5 L1061.3 1386.2 L1065.6 1382.7 L1069.8 1379.3 L1073.9 1375.7 L1078 1372.1 L1082 1368.3 L1085.9 1364.6 L1089.8 1360.7 L1093.5 1356.8 L1097.3 1352.8 L1100.9 1348.7 L1104.5 1344.6 L1108 1340.4 L1111.4 1336.2 L1114.7 1331.9 L1118 1327.5 L1121.3 1323.1 L1124.4 1318.6 L1127.5 1314.1 L1130.5 1309.5 L1133.4 1304.9 L1136.3 1300.2 L1139.1 1295.5 L1141.9 1290.7 L1144.5 1285.9 L1147.2 1281.1 L1149.7 1276.2 L1152.2 1271.3 L1154.6 1266.4 L1157 1261.4 L1159.3 1256.4 L1161.6 1251.3 L1163.8 1246.3 L1165.9 1241.2 L1167.9 1236 L1169.9 1230.9 L1171.9 1225.7 L1173.8 1220.5 L1175.6 1215.3 L1177.3 1210 L1179 1204.7 L1180.6 1199.5 L1182.1 1194.2 L1183.6 1188.8 L1185 1183.5 L1186.4 1178.2 L1187.7 1172.8 L1188.9 1167.4 L1190 1162.1 L1191.1 1156.7 L1192.2 1151.3 L1193.1 1145.9 L1194.1 1140.5 L1194.9 1135.1 L1195.7 1129.6 L1196.5 1124.2 L1197.2 1118.8 L1197.9 1113.3 L1198.5 1107.8 L1199.1 1102.4 L1199.7 1096.9 L1200.2 1091.4 L1200.6 1085.9 L1201 1080.4 L1201.4 1074.9 L1201.8 1069.4 L1202.1 1063.9 L1202.4 1058.3 L1202.6 1052.8 L1202.9 1047.2 L1203.1 1041.7 L1203.2 1036.1 L1203.4 1030.6 L1203.5 1025 L1203.6 1019.4 L1203.7 1013.8 L1203.7 1008.2 L1203.8 1002.6 L1203.8 997 L1203.8 991.4 L1203.8 985.8 L1203.8 980.2 L1203.8 974.6 L1203.8 969 L1203.8 963.3 L1203.7 957.7 L1203.7 952.1 L1203.7 946.4 L1203.7 940.8 L1203.6 935.2 L1203.6 929.5 L1203.6 923.9 L1203.6 918.2 L1203.6 912.6 L1203.6 906.9 L1203.6 901.3 L1203.6 895.6 L1203.7 890 L1203.8 884.3 L1203.8 878.7 L1204 873.1 L1204.1 867.4 L1204.2 861.8 L1204.4 856.1 L1204.6 850.5 L1204.8 844.9 L1205.1 839.3 L1205.4 833.7 L1205.7 828 L1206 822.4 L1206.4 816.8 L1206.8 811.3 L1207.2 805.7 L1207.6 800.1 L1208.1 794.5 L1208.7 789 L1209.2 783.4 L1209.8 777.9 L1210.4 772.4 L1211.1 766.8 L1211.8 761.3 L1212.5 755.8 L1213.3 750.4 L1214.1 744.9 L1215 739.4 L1215.9 734 L1216.9 728.6 L1217.9 723.1 L1218.9 717.7 L1220 712.3 L1221.1 707 L1222.3 701.6 L1223.6 696.3 L1224.9 691 L1226.2 685.6 L1227.6 680.4 L1229.1 675.1 L1230.6 669.8 L1232.1 664.6 L1233.8 659.4 L1235.5 654.2 L1237.2 649 L1239 643.9 L1240.9 638.7 L1242.9 633.6 L1244.9 628.5 L1246.9 623.5 L1249.1 618.4 L1251.3 613.4 L1253.6 608.4 L1255.9 603.5 L1258.4 598.5 L1260.9 593.6 L1263.4 588.7 L1266.1 583.8 L1268.8 579 L1271.6 574.2 L1274.5 569.4 L1277.5 564.7 L1280.6 560 L1283.7 555.3 L1287 550.7 L1290.3 546.1 L1293.8 541.6 L1297.3 537.1 L1301 532.6 L1304.7 528.1 L1308.5 523.7 L1312.3 519.3 L1316.3 515 L1320.3 510.7 L1324.5 506.4 L1325.5 505.3" fill="none" stroke="#000000" stroke-width="7.5" stroke-linejoin="round"/>
<g fill="none" stroke="#000000" stroke-width="3.7"><circle cx="213.5" cy="1246.3" r="11.0"/><circle cx="232" cy="1246.8" r="11.0"/><circle cx="250.5" cy="1248.2" r="11.0"/><circle cx="268.9" cy="1250.3" r="11.0"/><circle cx="287.2" cy="1253.2" r="11.0"/><circle cx="305.3" cy="1256.8" r="11.0"/><circle cx="323.3" cy="1261.1" r="11.0"/><circle cx="341.2" cy="1266" r="11.0"/><circle cx="358.9" cy="1271.5" r="11.0"/><circle cx="376.4" cy="1277.5" r="11.0"/><circle cx="393.7" cy="1284" r="11.0"/><circle cx="410.9" cy="1290.9" r="11.0"/><circle cx="428" cy="1298.1" r="11.0"/><circle cx="444.9" cy="1305.7" r="11.0"/><circle cx="461.7" cy="1313.5" r="11.0"/><circle cx="478.4" cy="1321.5" r="11.0"/><circle cx="495" cy="1329.6" r="11.0"/><circle cx="511.6" cy="1337.9" r="11.0"/><circle cx="528.2" cy="1346.1" r="11.0"/><circle cx="544.7" cy="1354.4" r="11.0"/><circle cx="561.3" cy="1362.6" r="11.0"/><circle cx="578" cy="1370.8" r="11.0"/><circle cx="594.7" cy="1378.8" r="11.0"/><circle cx="611.5" cy="1386.6" r="11.0"/><circle cx="628.4" cy="1394.2" r="11.0"/><circle cx="645.4" cy="1401.5" r="11.0"/><circle cx="662.5" cy="1408.4" r="11.0"/><circle cx="679.8" cy="1415" r="11.0"/><circle cx="697.3" cy="1421.2" r="11.0"/><circle cx="714.9" cy="1427" r="11.0"/><circle cx="732.6" cy="1432.2" r="11.0"/><circle cx="750.6" cy="1436.9" r="11.0"/><circle cx="768.6" cy="1441.1" r="11.0"/><circle cx="786.8" cy="1444.6" r="11.0"/><circle cx="805.1" cy="1447.4" r="11.0"/><circle cx="823.5" cy="1449.5" r="11.0"/><circle cx="842" cy="1450.8" r="11.0"/><circle cx="860.5" cy="1451.3" r="11.0"/><circle cx="879" cy="1450.8" r="11.0"/><circle cx="897.4" cy="1449.4" r="11.0"/><circle cx="915.8" cy="1446.9" r="11.0"/><circle cx="934" cy="1443.5" r="11.0"/><circle cx="952" cy="1439.2" r="11.0"/><circle cx="969.7" cy="1433.8" r="11.0"/><circle cx="987.1" cy="1427.5" r="11.0"/><circle cx="1004.2" cy="1420.3" r="11.0"/><circle cx="1020.8" cy="1412.1" r="11.0"/><circle cx="1036.9" cy="1403" r="11.0"/><circle cx="1052.5" cy="1393" r="11.0"/><circle cx="1067.4" cy="1382" r="11.0"/><circle cx="1081.6" cy="1370.1" r="11.0"/><circle cx="1095.1" cy="1357.4" r="11.0"/><circle cx="1107.7" cy="1343.9" r="11.0"/><circle cx="1119.6" cy="1329.7" r="11.0"/><circle cx="1130.6" cy="1314.8" r="11.0"/><circle cx="1140.9" cy="1299.4" r="11.0"/><circle cx="1150.4" cy="1283.5" r="11.0"/><circle cx="1159" cy="1267.1" r="11.0"/><circle cx="1167" cy="1250.4" r="11.0"/><circle cx="1174.2" cy="1233.3" r="11.0"/><circle cx="1180.6" cy="1216" r="11.0"/><circle cx="1186.3" cy="1198.4" r="11.0"/><circle cx="1191.3" cy="1180.5" r="11.0"/><circle cx="1195.6" cy="1162.5" r="11.0"/><circle cx="1199.1" cy="1144.3" r="11.0"/><circle cx="1202.1" cy="1126" r="11.0"/><circle cx="1204.4" cy="1107.7" r="11.0"/><circle cx="1206.3" cy="1089.3" r="11.0"/><circle cx="1207.7" cy="1070.8" r="11.0"/><circle cx="1208.6" cy="1052.3" r="11.0"/><circle cx="1209.3" cy="1033.8" r="11.0"/><circle cx="1209.7" cy="1015.3" r="11.0"/><circle cx="1209.9" cy="996.8" r="11.0"/><circle cx="1209.9" cy="978.2" r="11.0"/><circle cx="1209.8" cy="959.7" r="11.0"/><circle cx="1209.8" cy="941.2" r="11.0"/><circle cx="1209.7" cy="922.7" r="11.0"/><circle cx="1209.7" cy="904.2" r="11.0"/><circle cx="1209.9" cy="885.6" r="11.0"/><circle cx="1210.2" cy="867.1" r="11.0"/><circle cx="1210.7" cy="848.6" r="11.0"/><circle cx="1211.4" cy="830.1" r="11.0"/><circle cx="1212.4" cy="811.6" r="11.0"/><circle cx="1213.7" cy="793.1" r="11.0"/><circle cx="1215.4" cy="774.7" r="11.0"/><circle cx="1217.6" cy="756.3" r="11.0"/><circle cx="1220.1" cy="738" r="11.0"/><circle cx="1223.2" cy="719.7" r="11.0"/><circle cx="1226.9" cy="701.5" r="11.0"/><circle cx="1231.1" cy="683.5" r="11.0"/><circle cx="1236" cy="665.7" r="11.0"/><circle cx="1241.6" cy="648" r="11.0"/><circle cx="1247.9" cy="630.6" r="11.0"/><circle cx="1255" cy="613.5" r="11.0"/><circle cx="1262.8" cy="596.7" r="11.0"/><circle cx="1271.4" cy="580.3" r="11.0"/><circle cx="1280.8" cy="564.4" r="11.0"/><circle cx="1291" cy="548.9" r="11.0"/><circle cx="1302" cy="534" r="11.0"/><circle cx="1313.6" cy="519.6" r="11.0"/><circle cx="1326" cy="505.8" r="11.0"/></g>
<!-- green -->
<path d="M213.5 1246.6 L219.3 1246.6 L225 1246.8 L230.8 1247 L236.5 1247.3 L242.2 1247.6 L247.8 1248 L253.5 1248.4 L259.1 1248.9 L264.7 1249.5 L270.3 1250.1 L275.8 1250.8 L281.4 1251.5 L286.9 1252.2 L292.4 1253 L297.9 1253.9 L303.4 1254.7 L308.8 1255.7 L314.2 1256.6 L319.7 1257.6 L325.1 1258.7 L330.4 1259.7 L335.8 1260.8 L341.2 1262 L346.5 1263.1 L351.9 1264.3 L357.2 1265.6 L362.5 1266.8 L367.8 1268.1 L373.1 1269.4 L378.4 1270.8 L383.7 1272.1 L389 1273.5 L394.2 1274.9 L399.5 1276.4 L404.7 1277.8 L410 1279.3 L415.2 1280.8 L420.5 1282.4 L425.7 1283.9 L430.9 1285.5 L436.1 1287.1 L441.3 1288.7 L446.5 1290.4 L451.8 1292 L457 1293.7 L462.2 1295.4 L467.4 1297.1 L472.6 1298.8 L477.8 1300.5 L483 1302.3 L488.2 1304 L493.4 1305.7 L498.6 1307.5 L503.8 1309.3 L509 1311 L514.2 1312.8 L519.5 1314.6 L524.7 1316.4 L529.9 1318.1 L535.1 1319.9 L540.4 1321.7 L545.6 1323.5 L550.9 1325.3 L556.1 1327 L561.4 1328.8 L566.7 1330.6 L572 1332.4 L577.2 1334.1 L582.5 1335.9 L587.8 1337.6 L593.2 1339.4 L598.5 1341.1 L603.8 1342.9 L609.2 1344.6 L614.5 1346.3 L619.9 1348 L625.3 1349.7 L630.7 1351.3 L636.1 1353 L641.5 1354.6 L646.9 1356.3 L652.3 1357.9 L657.8 1359.5 L663.2 1361 L668.7 1362.6 L674.1 1364.1 L679.6 1365.6 L685.1 1367.1 L690.6 1368.6 L696.1 1370 L701.6 1371.4 L707.1 1372.8 L712.6 1374.1 L718.1 1375.5 L723.7 1376.8 L729.2 1378 L734.7 1379.3 L740.3 1380.5 L745.8 1381.6 L751.4 1382.8 L756.9 1383.9 L762.5 1384.9 L768.1 1386 L773.6 1387 L779.2 1387.9 L784.8 1388.9 L790.3 1389.8 L795.9 1390.6 L801.5 1391.4 L807 1392.2 L812.6 1392.9 L818.2 1393.6 L823.8 1394.2 L829.3 1394.8 L834.9 1395.3 L840.5 1395.8 L846.1 1396.3 L851.6 1396.7 L857.2 1397 L862.8 1397.3 L868.3 1397.6 L873.9 1397.8 L879.4 1397.9 L885 1398 L890.5 1398 L896.1 1398 L901.6 1397.9 L907.1 1397.7 L912.7 1397.5 L918.2 1397.3 L923.7 1397 L929.2 1396.6 L934.7 1396.1 L940.2 1395.6 L945.7 1395.1 L951.1 1394.5 L956.6 1393.8 L962.1 1393 L967.5 1392.2 L972.9 1391.3 L978.4 1390.3 L983.8 1389.3 L989.2 1388.2 L994.6 1387.1 L1000 1385.8 L1005.3 1384.5 L1010.7 1383.2 L1016 1381.7 L1021.4 1380.2 L1026.7 1378.6 L1032 1377 L1037.2 1375.3 L1042.5 1373.5 L1047.7 1371.7 L1053 1369.8 L1058.1 1367.8 L1063.3 1365.8 L1068.5 1363.7 L1073.6 1361.6 L1078.7 1359.4 L1083.8 1357.1 L1088.8 1354.7 L1093.8 1352.3 L1098.8 1349.9 L1103.8 1347.4 L1108.7 1344.8 L1113.6 1342.1 L1118.5 1339.4 L1123.3 1336.6 L1128.1 1333.8 L1132.9 1330.9 L1137.6 1328 L1142.3 1325 L1146.9 1321.9 L1151.6 1318.8 L1156.1 1315.7 L1160.7 1312.4 L1165.2 1309.2 L1169.6 1305.8 L1174 1302.4 L1178.4 1299 L1182.7 1295.5 L1187 1292 L1191.3 1288.4 L1195.5 1284.8 L1199.6 1281.1 L1203.7 1277.4 L1207.8 1273.6 L1211.8 1269.8 L1215.8 1265.9 L1219.7 1262 L1223.6 1258 L1227.4 1254 L1231.2 1250 L1234.9 1245.9 L1238.6 1241.8 L1242.2 1237.6 L1245.7 1233.4 L1249.3 1229.1 L1252.7 1224.8 L1256.1 1220.5 L1259.5 1216.1 L1262.8 1211.7 L1266 1207.2 L1269.2 1202.7 L1272.3 1198.1 L1275.4 1193.6 L1278.3 1188.9 L1281.3 1184.2 L1284.1 1179.5 L1286.9 1174.8 L1289.6 1170 L1292.3 1165.2 L1294.9 1160.3 L1297.4 1155.4 L1299.9 1150.5 L1302.3 1145.5 L1304.6 1140.5 L1306.9 1135.4 L1309.1 1130.4 L1311.2 1125.2 L1313.2 1120.1 L1315.2 1114.9 L1317.1 1109.7 L1319 1104.5 L1320.8 1099.2 L1322.5 1093.9 L1324.2 1088.6 L1325.8 1083.3 L1327.3 1077.9 L1328.8 1072.5 L1330.2 1067.1 L1331.5 1061.7 L1332.9 1056.2 L1334.1 1050.8 L1335.3 1045.3 L1336.4 1039.8 L1337.5 1034.3 L1338.5 1028.8 L1339.5 1023.3 L1340.5 1017.8 L1341.3 1012.2 L1342.2 1006.7 L1343 1001.1 L1343.7 995.6 L1344.4 990 L1345 984.4 L1345.6 978.8 L1346.2 973.3 L1346.7 967.7 L1347.2 962.1 L1347.6 956.5 L1348 950.9 L1348.4 945.3 L1348.7 939.7 L1349 934.1 L1349.2 928.5 L1349.4 922.9 L1349.6 917.3 L1349.8 911.7 L1349.9 906.1 L1350 900.5 L1350 894.9 L1350 889.4 L1350 883.8 L1350 878.2 L1349.9 872.6 L1349.8 867 L1349.7 861.5 L1349.5 855.9 L1349.4 850.3 L1349.2 844.8 L1349 839.2 L1348.8 833.7 L1348.5 828.1 L1348.2 822.6 L1347.9 817 L1347.6 811.5 L1347.3 805.9 L1347 800.4 L1346.6 794.9 L1346.2 789.4 L1345.9 783.8 L1345.5 778.3 L1345 772.8 L1344.6 767.3 L1344.2 761.8 L1343.8 756.2 L1343.3 750.7 L1342.8 745.2 L1342.4 739.7 L1341.9 734.2 L1341.4 728.7 L1340.9 723.2 L1340.4 717.7 L1339.9 712.2 L1339.4 706.7 L1338.9 701.1 L1338.4 695.6 L1337.9 690.1 L1337.4 684.6 L1336.9 679.1 L1336.4 673.6 L1336 668.1 L1335.5 662.6 L1335 657.1 L1334.5 651.6 L1334 646 L1333.5 640.5 L1333.1 635 L1332.6 629.5 L1332.2 624 L1331.7 618.4 L1331.3 612.9 L1330.9 607.4 L1330.5 601.9 L1330.1 596.3 L1329.7 590.8 L1329.3 585.2 L1328.9 579.7 L1328.6 574.1 L1328.3 568.6 L1328 563 L1327.7 557.5 L1327.4 551.9 L1327.2 546.3 L1326.9 540.8 L1326.7 535.2 L1326.5 529.6 L1326.4 524 L1326.2 518.4 L1326.1 512.8 L1326 507.2 L1326 505.8" fill="none" stroke="#00ff00" stroke-width="7.5" stroke-linejoin="round"/>
<g fill="none" stroke="#00ff00" stroke-width="3.7"><circle cx="213.5" cy="1246.3" r="11.0"/><circle cx="232" cy="1246.5" r="11.0"/><circle cx="250.5" cy="1247.3" r="11.0"/><circle cx="269" cy="1248.7" r="11.0"/><circle cx="287.4" cy="1250.7" r="11.0"/><circle cx="305.8" cy="1253.1" r="11.0"/><circle cx="324.1" cy="1256" r="11.0"/><circle cx="342.3" cy="1259.4" r="11.0"/><circle cx="360.4" cy="1263.3" r="11.0"/><circle cx="378.5" cy="1267.5" r="11.0"/><circle cx="396.4" cy="1272" r="11.0"/><circle cx="414.3" cy="1276.9" r="11.0"/><circle cx="432.1" cy="1282" r="11.0"/><circle cx="449.8" cy="1287.4" r="11.0"/><circle cx="467.5" cy="1293" r="11.0"/><circle cx="485.1" cy="1298.7" r="11.0"/><circle cx="502.7" cy="1304.6" r="11.0"/><circle cx="520.3" cy="1310.5" r="11.0"/><circle cx="537.8" cy="1316.4" r="11.0"/><circle cx="555.4" cy="1322.4" r="11.0"/><circle cx="572.9" cy="1328.3" r="11.0"/><circle cx="590.5" cy="1334.2" r="11.0"/><circle cx="608.1" cy="1339.9" r="11.0"/><circle cx="625.7" cy="1345.6" r="11.0"/><circle cx="643.5" cy="1351" r="11.0"/><circle cx="661.2" cy="1356.3" r="11.0"/><circle cx="679" cy="1361.3" r="11.0"/><circle cx="696.9" cy="1366.1" r="11.0"/><circle cx="714.9" cy="1370.7" r="11.0"/><circle cx="732.9" cy="1374.9" r="11.0"/><circle cx="751" cy="1378.9" r="11.0"/><circle cx="769.2" cy="1382.4" r="11.0"/><circle cx="787.5" cy="1385.6" r="11.0"/><circle cx="805.8" cy="1388.4" r="11.0"/><circle cx="824.2" cy="1390.8" r="11.0"/><circle cx="842.6" cy="1392.6" r="11.0"/><circle cx="861.1" cy="1394" r="11.0"/><circle cx="879.6" cy="1394.8" r="11.0"/><circle cx="898.1" cy="1395" r="11.0"/><circle cx="916.6" cy="1394.5" r="11.0"/><circle cx="935.1" cy="1393.4" r="11.0"/><circle cx="953.6" cy="1391.6" r="11.0"/><circle cx="971.9" cy="1389.1" r="11.0"/><circle cx="990.1" cy="1385.8" r="11.0"/><circle cx="1008.2" cy="1381.7" r="11.0"/><circle cx="1026.1" cy="1376.9" r="11.0"/><circle cx="1043.8" cy="1371.3" r="11.0"/><circle cx="1061.2" cy="1365" r="11.0"/><circle cx="1078.3" cy="1358" r="11.0"/><circle cx="1095.2" cy="1350.3" r="11.0"/><circle cx="1111.7" cy="1342" r="11.0"/><circle cx="1127.9" cy="1333" r="11.0"/><circle cx="1143.8" cy="1323.4" r="11.0"/><circle cx="1159.2" cy="1313.1" r="11.0"/><circle cx="1174.2" cy="1302.3" r="11.0"/><circle cx="1188.8" cy="1290.8" r="11.0"/><circle cx="1202.9" cy="1278.8" r="11.0"/><circle cx="1216.4" cy="1266.2" r="11.0"/><circle cx="1229.5" cy="1253.1" r="11.0"/><circle cx="1242" cy="1239.4" r="11.0"/><circle cx="1253.9" cy="1225.1" r="11.0"/><circle cx="1265.1" cy="1210.4" r="11.0"/><circle cx="1275.7" cy="1195.2" r="11.0"/><circle cx="1285.5" cy="1179.5" r="11.0"/><circle cx="1294.7" cy="1163.4" r="11.0"/><circle cx="1303" cy="1146.9" r="11.0"/><circle cx="1310.5" cy="1129.9" r="11.0"/><circle cx="1317.3" cy="1112.7" r="11.0"/><circle cx="1323.3" cy="1095.2" r="11.0"/><circle cx="1328.5" cy="1077.4" r="11.0"/><circle cx="1333.1" cy="1059.4" r="11.0"/><circle cx="1337.1" cy="1041.3" r="11.0"/><circle cx="1340.4" cy="1023.1" r="11.0"/><circle cx="1343.2" cy="1004.8" r="11.0"/><circle cx="1345.5" cy="986.4" r="11.0"/><circle cx="1347.4" cy="968" r="11.0"/><circle cx="1348.7" cy="949.5" r="11.0"/><circle cx="1349.7" cy="931" r="11.0"/><circle cx="1350.3" cy="912.5" r="11.0"/><circle cx="1350.5" cy="894" r="11.0"/><circle cx="1350.4" cy="875.4" r="11.0"/><circle cx="1350" cy="856.9" r="11.0"/><circle cx="1349.3" cy="838.4" r="11.0"/><circle cx="1348.4" cy="819.9" r="11.0"/><circle cx="1347.3" cy="801.4" r="11.0"/><circle cx="1346.1" cy="782.9" r="11.0"/><circle cx="1344.7" cy="764.4" r="11.0"/><circle cx="1343.1" cy="746" r="11.0"/><circle cx="1341.5" cy="727.5" r="11.0"/><circle cx="1339.8" cy="709.1" r="11.0"/><circle cx="1338.1" cy="690.6" r="11.0"/><circle cx="1336.4" cy="672.2" r="11.0"/><circle cx="1334.7" cy="653.7" r="11.0"/><circle cx="1333.1" cy="635.3" r="11.0"/><circle cx="1331.6" cy="616.8" r="11.0"/><circle cx="1330.2" cy="598.3" r="11.0"/><circle cx="1329" cy="579.8" r="11.0"/><circle cx="1327.9" cy="561.3" r="11.0"/><circle cx="1327" cy="542.8" r="11.0"/><circle cx="1326.4" cy="524.3" r="11.0"/><circle cx="1326" cy="505.8" r="11.0"/></g>
<!-- axes box -->
<rect x="214" y="24.8" width="1204" height="1443.9" fill="none" stroke="#000" stroke-width="7.6"/>
<!-- point labels -->
<text class="serif" transform="translate(231.6,1220) scale(0.935,1)" font-size="101">A</text>
<text class="serif" transform="translate(1343,523.5) scale(0.975,1)" font-size="100">B</text>
</g>
</svg>
</body>
</html>
